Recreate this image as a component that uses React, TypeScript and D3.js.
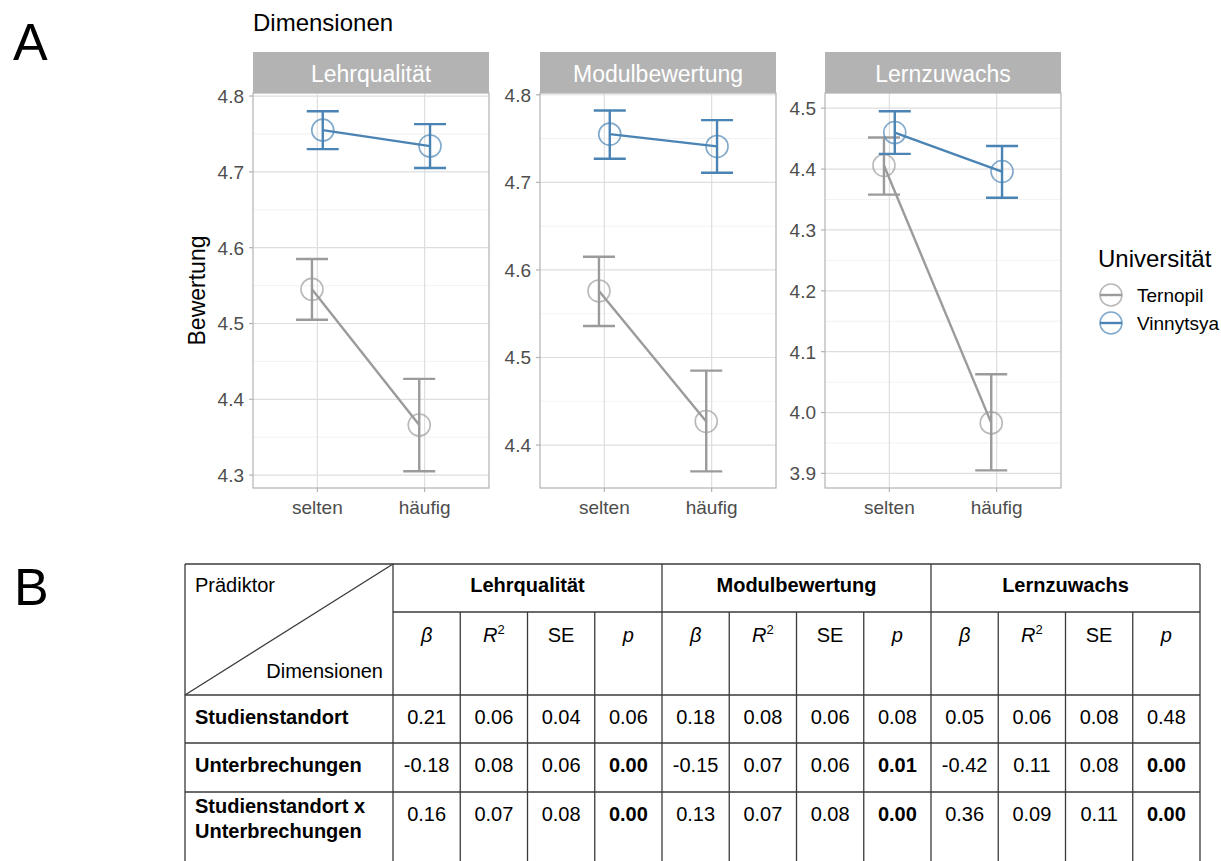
import React from "react";
import * as d3 from "d3";

// ---- data ----
const dimensions = ["Lehrqualität", "Modulbewertung", "Lernzuwachs"];
const frequency = ["selten", "häufig"];
const universities = ["Ternopil", "Vinnytsya"];

// means and 95% CI per dimension, [selten, häufig]
const ternopilMean = [[4.545, 4.366], [4.576, 4.427], [4.406, 3.983]];
const ternopilLow = [[4.505, 4.305], [4.536, 4.37], [4.358, 3.905]];
const ternopilHigh = [[4.585, 4.427], [4.615, 4.485], [4.452, 4.063]];
const vinnytsyaMean = [[4.755, 4.734], [4.755, 4.741], [4.46, 4.396]];
const vinnytsyaLow = [[4.73, 4.705], [4.727, 4.711], [4.425, 4.353]];
const vinnytsyaHigh = [[4.78, 4.763], [4.782, 4.771], [4.495, 4.438]];

const yDomains = [[4.283, 4.804], [4.351, 4.802], [3.876, 4.525]];
const yTicks = [
  [4.3, 4.4, 4.5, 4.6, 4.7, 4.8],
  [4.4, 4.5, 4.6, 4.7, 4.8],
  [3.9, 4.0, 4.1, 4.2, 4.3, 4.4, 4.5],
];

// table B
const statHeaders = ["β", "R2", "SE", "p"];
const predictors = [["Studienstandort"], ["Unterbrechungen"], ["Studienstandort x", "Unterbrechungen"]];
const tableValues = [
  ["0.21", "0.06", "0.04", "0.06", "0.18", "0.08", "0.06", "0.08", "0.05", "0.06", "0.08", "0.48"],
  ["-0.18", "0.08", "0.06", "0.00", "-0.15", "0.07", "0.06", "0.01", "-0.42", "0.11", "0.08", "0.00"],
  ["0.16", "0.07", "0.08", "0.00", "0.13", "0.07", "0.08", "0.00", "0.36", "0.09", "0.11", "0.00"],
];
const boldValues = [
  [false, false, false, false, false, false, false, false, false, false, false, false],
  [false, false, false, true, false, false, false, true, false, false, false, true],
  [false, false, false, true, false, false, false, true, false, false, false, true],
];

const colors = { Ternopil: "#9b9b9b", Vinnytsya: "#4a84b5" };
const font = "'Liberation Sans', Arial, sans-serif";

const panelLefts = [253, 540, 825];
const panelW = 236;
const panelTop = 93;
const panelBottom = 488;
const stripTop = 52;

const Panel = ({ i }) => {
  const left = panelLefts[i];
  const x = d3.scalePoint().domain(frequency).range([0, panelW]).padding(0.6);
  const y = d3.scaleLinear().domain(yDomains[i]).range([panelBottom, panelTop]);
  const ticks = yTicks[i];
  const minor = d3.range(ticks[0] - 0.05, ticks[ticks.length - 1] + 0.1, 0.1)
    .filter((v) => v > yDomains[i][0] && v < yDomains[i][1]);
  const dodge = 5.4;
  const capHalf = 16;
  const series = [
    { name: "Ternopil", mean: ternopilMean[i], lo: ternopilLow[i], hi: ternopilHigh[i], off: -dodge },
    { name: "Vinnytsya", mean: vinnytsyaMean[i], lo: vinnytsyaLow[i], hi: vinnytsyaHigh[i], off: dodge },
  ];
  const line = d3.line<[number, number]>();
  return (
    <g>
      <rect x={left} y={stripTop} width={panelW} height={panelTop - stripTop} fill="#b3b3b3" />
      <text x={left + panelW / 2} y={82} textAnchor="middle" fill="#fff" fontSize={23} fontFamily={font}>
        {dimensions[i]}
      </text>
      <rect x={left} y={panelTop} width={panelW} height={panelBottom - panelTop} fill="#fff" />
      {minor.map((v) => (
        <line key={"m" + v} x1={left} x2={left + panelW} y1={y(v)} y2={y(v)} stroke="#ececec" strokeWidth={0.7} />
      ))}
      {ticks.map((v) => (
        <line key={"g" + v} x1={left} x2={left + panelW} y1={y(v)} y2={y(v)} stroke="#dedede" strokeWidth={1.2} />
      ))}
      {frequency.map((f) => (
        <line key={f} x1={left + x(f)} x2={left + x(f)} y1={panelTop} y2={panelBottom} stroke="#dedede" strokeWidth={1.2} />
      ))}
      <rect x={left} y={panelTop} width={panelW} height={panelBottom - panelTop} fill="none" stroke="#b3b3b3" strokeWidth={1.2} />
      {ticks.map((v) => (
        <g key={"t" + v}>
          <line x1={left - 4} x2={left} y1={y(v)} y2={y(v)} stroke="#b3b3b3" strokeWidth={1.2} />
          <text x={left - 9} y={y(v)} dy="0.36em" textAnchor="end" fill="#4d4d4d" fontSize={19} fontFamily={font}>
            {v.toFixed(1)}
          </text>
        </g>
      ))}
      {frequency.map((f) => (
        <g key={"x" + f}>
          <line x1={left + x(f)} x2={left + x(f)} y1={panelBottom} y2={panelBottom + 4} stroke="#b3b3b3" strokeWidth={1.2} />
          <text x={left + x(f)} y={514} textAnchor="middle" fill="#4d4d4d" fontSize={19} fontFamily={font}>
            {f}
          </text>
        </g>
      ))}
      {series.map((s) => {
        const c = colors[s.name];
        const pts = frequency.map((f, k) => [left + x(f) + s.off, y(s.mean[k])] as [number, number]);
        return (
          <g key={s.name}>
            {frequency.map((f, k) => {
              const cx = left + x(f) + s.off;
              return (
                <g key={f} stroke={c} strokeWidth={2.4} fill="none">
                  <line x1={cx} x2={cx} y1={y(s.lo[k])} y2={y(s.hi[k])} />
                  <line x1={cx - capHalf} x2={cx + capHalf} y1={y(s.lo[k])} y2={y(s.lo[k])} />
                  <line x1={cx - capHalf} x2={cx + capHalf} y1={y(s.hi[k])} y2={y(s.hi[k])} />
                </g>
              );
            })}
            <path d={line(pts) ?? ""} stroke={c} strokeWidth={2.4} fill="none" />
            {pts.map((p, k) => (
              <circle key={k} cx={p[0]} cy={p[1]} r={11} fill="none" stroke={c} strokeOpacity={0.7} strokeWidth={1.6} />
            ))}
          </g>
        );
      })}
    </g>
  );
};

const Table = () => {
  const left = 185;
  const firstColR = 393;
  const right = 1200;
  const colW = (right - firstColR) / 12;
  const rows = [564, 612, 695, 743, 792, 880];
  const colX = (k) => firstColR + k * colW;
  const stroke = "#3a3a3a";
  const sw = 1.3;
  const rowBase = [724, 772, 821];
  return (
    <g fontFamily={font} fontSize={20} fill="#000">
      {/* horizontal rules */}
      <line x1={left} x2={right} y1={rows[0]} y2={rows[0]} stroke={stroke} strokeWidth={sw} />
      <line x1={firstColR} x2={right} y1={rows[1]} y2={rows[1]} stroke={stroke} strokeWidth={sw} />
      {[rows[2], rows[3], rows[4]].map((r) => (
        <line key={r} x1={left} x2={right} y1={r} y2={r} stroke={stroke} strokeWidth={sw} />
      ))}
      {/* vertical rules */}
      <line x1={left} x2={left} y1={rows[0]} y2={rows[5]} stroke={stroke} strokeWidth={sw} />
      {d3.range(13).map((k) => (
        <line key={k} x1={colX(k)} x2={colX(k)} y1={k % 4 === 0 ? rows[0] : rows[1]} y2={rows[5]} stroke={stroke} strokeWidth={sw} />
      ))}
      <line x1={left} y1={rows[2]} x2={firstColR} y2={rows[0]} stroke={stroke} strokeWidth={sw} />
      <text x={195} y={592}>Prädiktor</text>
      <text x={383} y={678} textAnchor="end">Dimensionen</text>
      {dimensions.map((d, g) => (
        <text key={d} x={colX(g * 4 + 2)} y={592} textAnchor="middle" fontWeight="bold">{d}</text>
      ))}
      {d3.range(12).map((k) => {
        const h = statHeaders[k % 4];
        const cx = colX(k + 0.5);
        if (h === "R2")
          return (
            <text key={k} x={cx} y={642} textAnchor="middle">
              <tspan fontStyle="italic">R</tspan>
              <tspan fontSize={13} dy={-8}>2</tspan>
            </text>
          );
        return (
          <text key={k} x={cx} y={642} textAnchor="middle" fontStyle={h === "SE" ? "normal" : "italic"}>{h}</text>
        );
      })}
      {predictors.map((lines, r) => (
        <text key={r} x={195} y={r === 2 ? 813 : rowBase[r]} fontWeight="bold">
          {lines.map((l, j) => (
            <tspan key={j} x={195} dy={j === 0 ? 0 : 25}>{l}</tspan>
          ))}
        </text>
      ))}
      {tableValues.map((row, r) =>
        row.map((v, k) => (
          <text key={r + "-" + k} x={colX(k + 0.5)} y={rowBase[r]} textAnchor="middle" fontWeight={boldValues[r][k] ? "bold" : "normal"}>
            {v}
          </text>
        ))
      )}
    </g>
  );
};

export default function App() {
  return (
    <svg width={1221} height={861} style={{ position: "absolute", left: 0, top: 0, background: "#fff" }}>
      <rect width={1221} height={861} fill="#fff" />
      <text x={13} y={60} fontSize={52} fontFamily={font}>A</text>
      <text x={14} y={605} fontSize={52} fontFamily={font}>B</text>
      <text x={253} y={31} fontSize={24} fontFamily={font}>Dimensionen</text>
      <text transform="translate(205,290.5) rotate(-90)" textAnchor="middle" fontSize={23} fontFamily={font}>Bewertung</text>
      {dimensions.map((d, i) => (
        <Panel key={d} i={i} />
      ))}
      <g fontFamily={font}>
        <text x={1098} y={267} fontSize={24}>Universität</text>
        {universities.map((u, k) => {
          const cy = 295 + k * 28;
          return (
            <g key={u}>
              <line x1={1100} x2={1122} y1={cy} y2={cy} stroke={colors[u]} strokeWidth={2.4} />
              <circle cx={1111} cy={cy} r={11} fill="none" stroke={colors[u]} strokeOpacity={0.7} strokeWidth={1.6} />
              <text x={1137} y={cy} dy="0.36em" fontSize={19}>{u}</text>
            </g>
          );
        })}
      </g>
      <Table />
    </svg>
  );
}
